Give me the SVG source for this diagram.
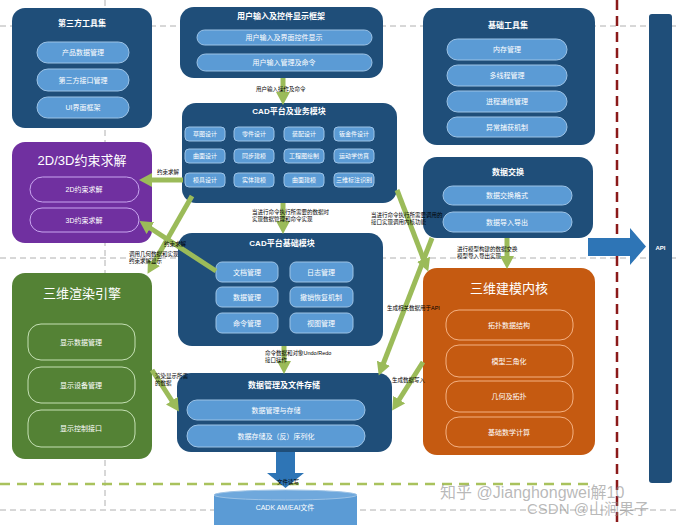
<svg xmlns="http://www.w3.org/2000/svg" width="677" height="525" viewBox="0 0 677 525">
<defs>
<marker id="ah" markerUnits="userSpaceOnUse" markerWidth="14" markerHeight="14" refX="4" refY="7" orient="auto"><path d="M0,0 L13,7 L0,14 Z" fill="#9bbb59"/></marker>
<style>
.bx{fill:#1f4e79}
.it{fill:#5b9bd5;stroke:#9dc3e6;stroke-width:1}
.t{font-family:'Liberation Sans','Noto Sans CJK SC',sans-serif;fill:#fff;text-anchor:middle;dominant-baseline:central}
.tt{font-size:8px;font-weight:bold}
.ti{font-size:7px}
.ts{font-size:6px}
.big{font-size:13px}
.c{stroke:#9bbb59;stroke-width:5;fill:none;marker-end:url(#ah)}
.l{font-family:'Liberation Sans','Noto Sans CJK SC',sans-serif;font-size:5.5px;fill:#000}
.dg{stroke:#b0b0b0;stroke-width:1;stroke-dasharray:6 4;fill:none}
</style>
</defs>
<rect width="677" height="525" fill="#fff"/>
<g id="guides">
<line class="dg" x1="0" y1="26" x2="677" y2="26"/>
<line class="dg" x1="0" y1="258" x2="677" y2="258"/>
<line class="dg" x1="0" y1="510" x2="677" y2="510"/>
<line class="dg" x1="105" y1="0" x2="105" y2="510"/>
<line x1="0" y1="484" x2="590" y2="484" stroke="#a9c25d" stroke-width="2.5" stroke-dasharray="10 7"/>
<line x1="617" y1="0" x2="617" y2="525" stroke="#8b1a1a" stroke-width="2.5" stroke-dasharray="10 6"/>
</g>
<g id="third-party">
<rect class="bx" x="12" y="8" width="140" height="120" rx="13"/>
<text class="t tt" x="82" y="23">第三方工具集</text>
<rect class="it" x="37" y="42" width="92" height="21" rx="10.5"/><text class="t ti" x="83" y="52.5">产品数据管理</text>
<rect class="it" x="37" y="69" width="92" height="22" rx="11"/><text class="t ti" x="83" y="80">第三方接口管理</text>
<rect class="it" x="37" y="97" width="92" height="21" rx="10.5"/><text class="t ti" x="83" y="107.5">UI界面框架</text>
</g>
<g id="ui-framework">
<rect class="bx" x="180" y="7" width="203" height="71" rx="14"/>
<text class="t tt" x="281" y="16">用户输入及控件显示框架</text>
<rect class="it" x="197" y="30" width="175" height="15" rx="7.5"/><text class="t ti" x="284" y="37.5">用户输入及界面控件显示</text>
<rect class="it" x="197" y="54" width="175" height="17" rx="8.5"/><text class="t ti" x="284" y="62.5">用户输入管理及命令</text>
</g>
<g id="base-tools">
<rect class="bx" x="423" y="8" width="172" height="137" rx="14"/>
<text class="t tt" x="508" y="25">基础工具集</text>
<rect class="it" x="447" y="39" width="120" height="21" rx="10.5"/><text class="t ti" x="507" y="49.5">内存管理</text>
<rect class="it" x="447" y="65" width="120" height="21" rx="10.5"/><text class="t ti" x="507" y="75.5">多线程管理</text>
<rect class="it" x="447" y="91" width="120" height="21" rx="10.5"/><text class="t ti" x="507" y="101.5">进程通信管理</text>
<rect class="it" x="447" y="117" width="120" height="20" rx="10"/><text class="t ti" x="507" y="127">异常捕获机制</text>
</g>
<g id="cad-platform">
<rect class="bx" x="182" y="103" width="215" height="100" rx="14"/>
<text class="t tt" x="289" y="111">CAD平台及业务模块</text>
<rect class="it" x="185" y="127" width="40" height="14" rx="4"/><text class="t ts" x="205" y="134">草图设计</text>
<rect class="it" x="234" y="127" width="40" height="14" rx="4"/><text class="t ts" x="254" y="134">零件设计</text>
<rect class="it" x="284" y="127" width="40" height="14" rx="4"/><text class="t ts" x="304" y="134">装配设计</text>
<rect class="it" x="334" y="127" width="40" height="14" rx="4"/><text class="t ts" x="354" y="134">钣金件设计</text>
<rect class="it" x="185" y="149" width="40" height="14" rx="4"/><text class="t ts" x="205" y="156">曲面设计</text>
<rect class="it" x="234" y="149" width="40" height="14" rx="4"/><text class="t ts" x="254" y="156">同步建模</text>
<rect class="it" x="284" y="149" width="40" height="14" rx="4"/><text class="t ts" x="304" y="156">工程图绘制</text>
<rect class="it" x="334" y="149" width="40" height="14" rx="4"/><text class="t ts" x="354" y="156">运动学仿真</text>
<rect class="it" x="185" y="173" width="40" height="14" rx="4"/><text class="t ts" x="205" y="180">模具设计</text>
<rect class="it" x="234" y="173" width="40" height="14" rx="4"/><text class="t ts" x="254" y="180">实体建模</text>
<rect class="it" x="284" y="173" width="40" height="14" rx="4"/><text class="t ts" x="304" y="180">曲面建模</text>
<rect class="it" x="334" y="173" width="40" height="14" rx="4"/><text class="t ts" x="354" y="180">三维标注识别</text>
</g>
<g id="constraint">
<rect x="12" y="142" width="140" height="101" rx="13" fill="#7030a0"/>
<text class="t big" x="82" y="160">2D/3D约束求解</text>
<rect x="30" y="177" width="109" height="25" rx="12.5" fill="#7030a0" stroke="#c9a6f0" stroke-width="1"/><text class="t ti" x="84" y="189.5">2D约束求解</text>
<rect x="30" y="208" width="109" height="24" rx="12" fill="#7030a0" stroke="#c9a6f0" stroke-width="1"/><text class="t ti" x="84" y="220">3D约束求解</text>
</g>
<g id="data-exchange">
<rect class="bx" x="423" y="157" width="170" height="81" rx="14"/>
<text class="t tt" x="508" y="172">数据交换</text>
<rect class="it" x="443" y="186" width="129" height="19" rx="9.5"/><text class="t ti" x="507" y="195.5">数据交换格式</text>
<rect class="it" x="443" y="212" width="129" height="20" rx="10"/><text class="t ti" x="507" y="222">数据导入导出</text>
</g>
<g id="cad-base">
<rect class="bx" x="178" y="233" width="205" height="113" rx="14"/>
<text class="t tt" x="282" y="243">CAD平台基础模块</text>
<rect class="it" x="216" y="262" width="62" height="20" rx="6"/><text class="t ti" x="247" y="272">文档管理</text>
<rect class="it" x="290" y="262" width="63" height="20" rx="6"/><text class="t ti" x="321" y="272">日志管理</text>
<rect class="it" x="216" y="287" width="62" height="20" rx="6"/><text class="t ti" x="247" y="297">数据管理</text>
<rect class="it" x="290" y="287" width="63" height="20" rx="6"/><text class="t ti" x="321" y="297">撤销恢复机制</text>
<rect class="it" x="216" y="313" width="62" height="20" rx="6"/><text class="t ti" x="247" y="323">命令管理</text>
<rect class="it" x="290" y="313" width="63" height="20" rx="6"/><text class="t ti" x="321" y="323">视图管理</text>
</g>
<g id="render">
<rect x="12" y="273" width="140" height="186" rx="13" fill="#548235"/>
<text class="t big" x="82" y="293">三维渲染引擎</text>
<rect x="28" y="324" width="107" height="36" rx="13" fill="#548235" stroke="#c5e0b4" stroke-width="1"/><text class="t ti" x="81" y="342">显示数据管理</text>
<rect x="28" y="367" width="107" height="36" rx="13" fill="#548235" stroke="#c5e0b4" stroke-width="1"/><text class="t ti" x="81" y="385">显示设备管理</text>
<rect x="28" y="410" width="107" height="37" rx="13" fill="#548235" stroke="#c5e0b4" stroke-width="1"/><text class="t ti" x="81" y="428.5">显示控制接口</text>
</g>
<g id="kernel">
<rect x="423" y="268" width="172" height="187" rx="14" fill="#c55a11"/>
<text class="t big" x="509" y="288">三维建模内核</text>
<rect x="446" y="310" width="127" height="30" rx="13" fill="#c55a11" stroke="#f4b183" stroke-width="1"/><text class="t ti" x="509" y="325">拓扑数据结构</text>
<rect x="446" y="345" width="127" height="32" rx="13" fill="#c55a11" stroke="#f4b183" stroke-width="1"/><text class="t ti" x="509" y="361">模型三角化</text>
<rect x="446" y="381" width="127" height="31" rx="13" fill="#c55a11" stroke="#f4b183" stroke-width="1"/><text class="t ti" x="509" y="396.5">几何及拓扑</text>
<rect x="446" y="417" width="127" height="30" rx="13" fill="#c55a11" stroke="#f4b183" stroke-width="1"/><text class="t ti" x="509" y="432">基础数学计算</text>
</g>
<g id="data-storage">
<rect class="bx" x="177" y="373" width="215" height="79" rx="14"/>
<text class="t tt" x="284" y="385">数据管理及文件存储</text>
<rect class="it" x="187" y="400" width="178" height="20" rx="10"/><text class="t ti" x="276" y="410">数据管理与存储</text>
<rect class="it" x="187" y="425" width="178" height="22" rx="11"/><text class="t ti" x="276" y="436">数据存储及（反）序列化</text>
</g>
<g id="file">
<rect x="214" y="495" width="143" height="35" fill="#5b9bd5"/>
<ellipse cx="285.5" cy="495" rx="71.5" ry="5" fill="#6fa8dc" stroke="#9dc3e6" stroke-width="1"/>
<text class="t ti" x="285" y="507">CADK AM/EAI文件</text>
</g>
<g id="api">
<rect x="649" y="14" width="23" height="469" rx="3" fill="#1f4e79"/>
<text class="t" x="660.5" y="248" font-size="6" font-weight="bold">API</text>
</g>
<g id="connectors">
<line class="c" x1="283" y1="78" x2="283" y2="96"/>
<line class="c" x1="283" y1="203" x2="283" y2="225"/>
<line class="c" x1="183" y1="180" x2="148" y2="180"/>
<line class="c" x1="216" y1="271" x2="147" y2="226"/>
<line class="c" x1="192" y1="196" x2="152" y2="266"/>
<line class="c" x1="152" y1="370" x2="174" y2="404"/>
<line class="c" x1="284" y1="346" x2="284" y2="365"/>
<line class="c" x1="397" y1="190" x2="425" y2="263"/>
<line class="c" x1="432" y1="238" x2="382" y2="367"/>
<line class="c" x1="423" y1="362" x2="397" y2="403"/>
<line class="c" x1="507" y1="238" x2="507" y2="260"/>
<path d="M588,238 H630 V228 L646,246.5 L630,265 V256 H588 Z" fill="#2e75b6"/>
<path d="M276,452 H295 V473 H304 L285.5,488 L267,473 H276 Z" fill="#2e75b6"/>
</g>
<g id="labels">
<text class="l" x="256" y="91">用户输入操作及命令</text>
<text class="l" x="157" y="174">约束求解</text>
<text class="l" x="164" y="246">约束求解</text>
<text class="l" x="129" y="256">调用几何数据和实现</text>
<text class="l" x="129" y="263">约束求解显示</text>
<text class="l" x="252" y="214">当进行命令执行所需要的数据时</text>
<text class="l" x="252" y="221">实现数据管理和命令实现</text>
<text class="l" x="371" y="217">当进行命令执行所需要调用的</text>
<text class="l" x="371" y="224">接口实现调用内核功能</text>
<text class="l" x="457" y="251">进行模型构建的数据交换</text>
<text class="l" x="457" y="258">模型导入导出实现</text>
<text class="l" x="387" y="310">生成相关数据用于API</text>
<text class="l" x="392" y="382">生成数据写入</text>
<text class="l" x="155" y="378">渲染显示所需</text>
<text class="l" x="155" y="385">的数据</text>
<text class="l" x="265" y="355">命令数据和对象Undo/Redo</text>
<text class="l" x="265" y="362">接口操作</text>
<text class="l" x="277" y="484">文件读写</text>
</g>
<g id="watermark" font-family="'Liberation Sans','Noto Sans CJK SC',sans-serif" fill="#8a8a8a" fill-opacity="0.6">
<text x="440" y="498" font-size="16">知乎 @Jianghongwei解10</text>
<text x="527" y="514" font-size="15">CSDN @山涧果子</text>
</g>
</svg>
